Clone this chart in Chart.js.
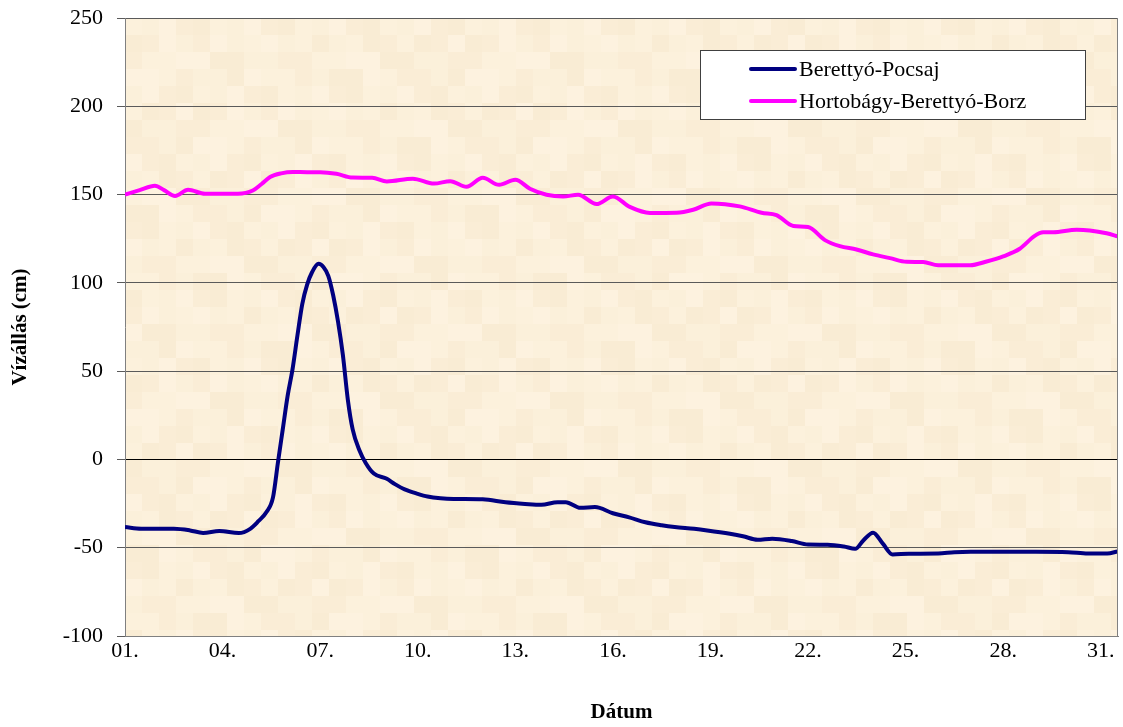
<!DOCTYPE html>
<html>
<head>
<meta charset="utf-8">
<script src="https://cdn.jsdelivr.net/npm/chart.js@4"></script>
<style>
  html, body { margin: 0; padding: 0; background: #fff; }
  #wrap { width: 1123px; height: 727px; }
</style>
</head>
<body>
<div id="wrap"><canvas id="vizallas"></canvas></div>
<script>
// Napok (x) és vízállás (cm)
const pocsajNapok = [1, 1.5, 2, 2.5, 3, 3.4, 3.9, 4.5, 4.85, 5.1, 5.35, 5.55, 5.7, 5.85, 6.0, 6.15, 6.3, 6.45, 6.6, 6.75, 6.95, 7.1, 7.25, 7.4, 7.55, 7.7, 7.85, 8.0, 8.2, 8.4, 8.65, 9.05, 9.3, 9.6, 10.0, 10.3, 10.7, 11.1, 12.0, 12.7, 13.3, 13.8, 14.3, 14.55, 15.0, 15.45, 16.0, 16.5, 17.0, 17.5, 17.9, 18.5, 18.9, 19.6, 20.0, 20.45, 20.9, 21.5, 22.0, 22.6, 23.1, 23.45, 23.7, 24.0, 24.3, 24.6, 25.1, 26.0, 26.5, 27, 28, 29, 30, 30.6, 31.2, 31.52];
const pocsajSzint = [-38.3, -39.2, -39.3, -39.3, -40.2, -41.6, -40.6, -41.7, -39.3, -35, -29.8, -21.5, -2, 17, 36, 51, 70, 88, 99, 106, 110.8, 109, 104, 93, 78, 59, 34, 17, 5.5, -2, -8, -11, -14, -17, -19.5, -21, -22, -22.4, -22.6, -24.3, -25.2, -25.7, -24.2, -24.2, -27.4, -27, -30.5, -32.8, -35.6, -37.3, -38.3, -39.3, -40.2, -42.1, -43.5, -45.5, -44.9, -46.2, -48.2, -48.3, -49.3, -50.6, -45.9, -41.5, -47.7, -53.8, -53.4, -53.3, -52.5, -52.3, -52.3, -52.3, -52.5, -53.3, -53.3, -52.1];

const borzNapok = [1, 1.45, 1.92, 2.2, 2.54, 2.94, 3.46, 4.0, 4.47, 4.93, 5.2, 5.46, 5.8, 6.16, 6.6, 7.0, 7.5, 8.0, 8.6, 9.05, 9.85, 10.5, 11.0, 11.5, 12.0, 12.5, 13.0, 13.45, 13.96, 14.47, 14.93, 15.5, 16.0, 16.52, 17.14, 17.96, 18.47, 19.03, 19.9, 20.57, 21.03, 21.55, 22.0, 22.52, 22.98, 23.49, 24.0, 24.52, 25.03, 25.54, 26.0, 26.98, 27.49, 28.0, 28.51, 28.97, 29.23, 29.54, 30.26, 30.66, 31.18, 31.53];
const borzSzint = [150, 152.5, 155, 152.5, 149.2, 152.7, 150.5, 150.5, 150.5, 152.3, 156, 159.9, 162, 162.8, 162.7, 162.7, 161.8, 159.6, 159.5, 157.4, 159, 156.2, 157.6, 154.4, 159.5, 155.5, 158.4, 153.3, 149.9, 148.9, 149.9, 144.6, 148.9, 143, 139.6, 139.7, 141.4, 145, 143.3, 139.7, 138.4, 132.2, 131.6, 124.2, 120.8, 118.9, 116.1, 114, 111.9, 111.8, 110, 110, 112.1, 115, 119.3, 126.6, 128.6, 128.7, 130.1, 129.7, 128.1, 126.3];

// Tengelyfeliratok
const datumTickek = [1, 4, 7, 10, 13, 16, 19, 22, 25, 28, 31];
const datumCimkek = ["01.", "04.", "07.", "10.", "13.", "16.", "19.", "22.", "25.", "28.", "31."];

const sorozatNevek = ["Berettyó-Pocsaj", "Hortobágy-Berettyó-Borz"];
const szinek = ["#000080", "#ff00ff"];

const betu = "'Liberation Serif', 'Times New Roman', serif";

// Háttér: bézs, enyhén kockás textúra
const hatterPlugin = {
  id: "hatter",
  beforeDraw(chart) {
    const { ctx, chartArea: a } = chart;
    ctx.save();
    ctx.fillStyle = "#fff";
    ctx.fillRect(0, 0, chart.width, chart.height);
    const arnyalatok = ["#fcf1dc", "#faedd6", "#fbf0da", "#f9ecd4", "#fdf2df"];
    const m = 17;
    for (let i = 0; a.left + i * m < a.right; i++) {
      for (let j = 0; a.top + j * m < a.bottom; j++) {
        ctx.fillStyle = arnyalatok[(i * 7 + j * 3 + (i * j) % 4) % 5];
        const x = a.left + i * m, y = a.top + j * m;
        ctx.fillRect(x, y, Math.min(m, a.right - x), Math.min(m, a.bottom - y));
      }
    }
    ctx.restore();
  }
};

// Jelmagyarázat a rajzterületen belül
const jelmagyarazatPlugin = {
  id: "jelmagyarazat",
  afterDraw(chart) {
    const { ctx, chartArea: a } = chart;
    const x0 = a.right - 418, y0 = a.top + 32, w = 385, h = 69;
    ctx.save();
    ctx.fillStyle = "#fff";
    ctx.fillRect(x0, y0, w, h);
    ctx.strokeStyle = "#404040";
    ctx.lineWidth = 1;
    ctx.strokeRect(x0 + 0.5, y0 + 0.5, w, h);
    ctx.font = "22px " + betu;
    ctx.textBaseline = "middle";
    chart.data.datasets.forEach((ds, i) => {
      const y = y0 + 19 + i * 32;
      ctx.strokeStyle = ds.borderColor;
      ctx.lineWidth = 4;
      ctx.lineCap = "round";
      ctx.beginPath();
      ctx.moveTo(x0 + 51, y);
      ctx.lineTo(x0 + 95, y);
      ctx.stroke();
      ctx.fillStyle = "#000";
      ctx.fillText(ds.label, x0 + 99, y + 1);
    });
    ctx.restore();
  }
};

// Keret a rajzterület jobb oldalán
const keretPlugin = {
  id: "keret",
  afterDatasetsDraw(chart) {
    const { ctx, chartArea: a } = chart;
    ctx.save();
    ctx.strokeStyle = "#808080";
    ctx.lineWidth = 1;
    ctx.beginPath();
    ctx.moveTo(a.right - 0.5, a.top);
    ctx.lineTo(a.right - 0.5, a.bottom);
    ctx.stroke();
    ctx.restore();
  }
};

const datasets = [
  { nap: pocsajNapok, szint: pocsajSzint },
  { nap: borzNapok, szint: borzSzint }
].map((s, k) => ({
  label: sorozatNevek[k],
  data: s.nap.map((d, i) => ({ x: d, y: s.szint[i] })),
  borderColor: szinek[k],
  backgroundColor: szinek[k],
  borderWidth: 4,
  pointRadius: 0,
  cubicInterpolationMode: "monotone",
  fill: false
}));

new Chart(document.getElementById("vizallas"), {
  type: "line",
  data: { datasets },
  plugins: [hatterPlugin, keretPlugin, jelmagyarazatPlugin],
  options: {
    responsive: true,
    maintainAspectRatio: false,
    animation: false,
    layout: { padding: { top: 18, right: 5, left: 0, bottom: 0 } },
    plugins: {
      legend: { display: false },
      tooltip: { enabled: false }
    },
    scales: {
      x: {
        type: "linear",
        min: 1,
        max: 31.53,
        afterBuildTicks(scale) {
          scale.ticks = datumTickek.map(v => ({ value: v }));
        },
        afterFit(scale) { scale.height = 91; },
        grid: { display: false, drawTicks: false },
        border: { display: true, color: "#808080" },
        ticks: {
          autoSkip: false,
          maxRotation: 0,
          padding: 2,
          color: "#000",
          font: { family: betu, size: 22 },
          callback: (v) => datumCimkek[datumTickek.indexOf(v)]
        },
        title: {
          display: true,
          text: "Dátum",
          color: "#000",
          font: { family: betu, size: 21, weight: "bold" },
          padding: { top: 0, bottom: 2 }
        }
      },
      y: {
        min: -100,
        max: 250,
        afterFit(scale) {
          scale.width = 125;
          scale.paddingTop = 0;
          scale.paddingBottom = 0;
        },
        grid: {
          color: (c) => (c.tick && c.tick.value === 0 ? "#000" : "#5a5a5a"),
          lineWidth: 1,
          drawTicks: true,
          tickLength: 8,
          tickColor: "#5a5a5a"
        },
        border: { display: true, color: "#808080" },
        ticks: {
          stepSize: 50,
          padding: 14,
          color: "#000",
          font: { family: betu, size: 22 }
        },
        title: {
          display: true,
          text: "Vízállás (cm)",
          color: "#000",
          font: { family: betu, size: 21, weight: "bold" },
          padding: { top: 8, bottom: 0 }
        }
      }
    }
  }
});
</script>
</body>
</html>
